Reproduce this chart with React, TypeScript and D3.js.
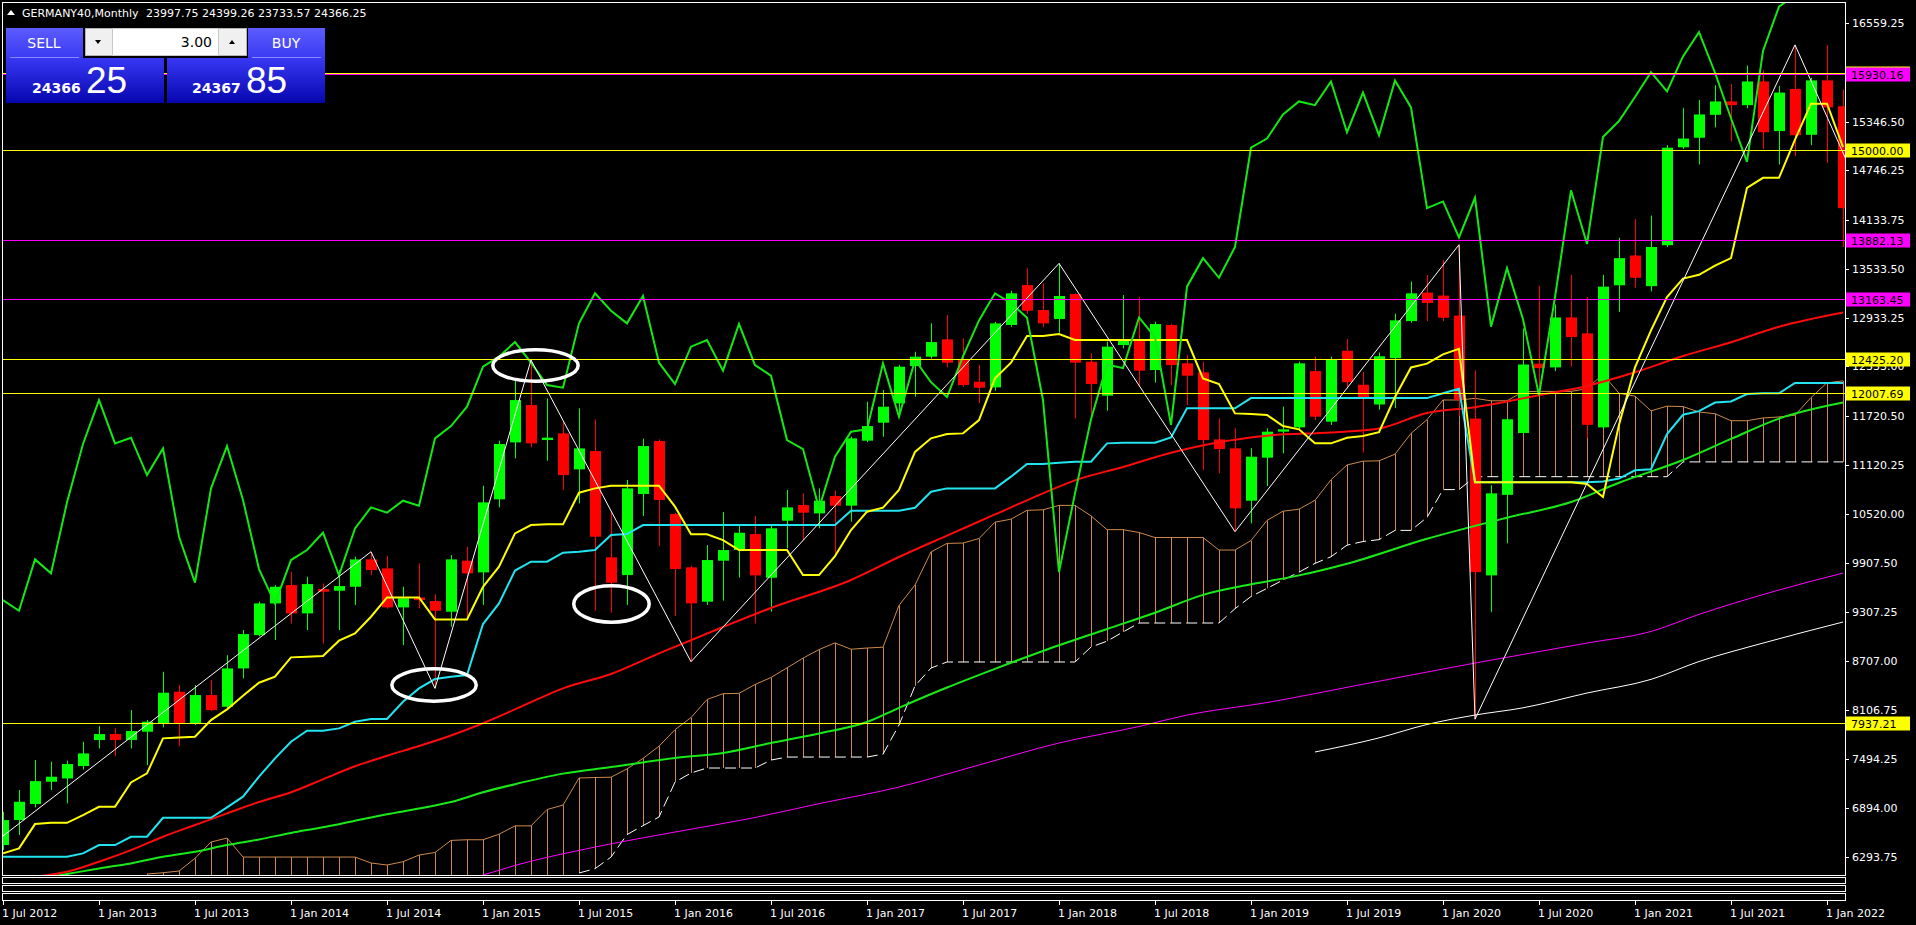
import { useLayoutEffect } from 'react'
import * as d3 from 'd3'

const WIDTH = 1916
const HEIGHT = 925
const PLOT = { left: 2, right: 1845, top: 2, bottom: 875 }
const FONT = 'DejaVu Sans, sans-serif'

// monthly bars, bar 0 = Jul 2012 ... bar 115 = Feb 2022
const OPEN = [
  6441, 6748, 6945, 7220, 7261, 7413, 7733, 7807, 7733, 7836,
  7938, 8328, 7938, 8287, 8143, 8615, 9025, 9415, 9641, 9292,
  9592, 9571, 9620, 9957, 9846, 9366, 9489, 9444, 9313, 9941,
  9797, 10696, 11397, 11857, 11426, 11508, 11065, 11291, 9982, 9764,
  10761, 11414, 10515, 9859, 9436, 9941, 10072, 10269, 9731, 10433,
  10626, 10523, 10737, 10618, 11418, 11639, 11877, 12337, 12452, 12665,
  12411, 12144, 12074, 12842, 13334, 13026, 12916, 13223, 12390, 11972,
  12595, 12657, 12288, 12842, 12370, 12259, 11434, 11324, 10679, 11209,
  11529, 11582, 12275, 11652, 12525, 12106, 11864, 12434, 12890, 13241,
  13204, 12958, 11691, 9760, 10751, 11513, 12366, 12320, 12935, 12739,
  11582, 13331, 13697, 13320, 13824, 15029, 15147, 15429, 15594, 15548,
  15840, 15229, 15748, 15183, 15853, 15534,
]
const HIGH = [
  6851, 7118, 7487, 7466, 7480, 7712, 7905, 7877, 8102, 7980,
  8574, 8410, 8410, 8472, 8779, 9087, 9436, 9640, 9805, 9743,
  9661, 9825, 9990, 10051, 10000, 9620, 9908, 9530, 10010, 10113,
  10864, 11418, 12165, 12411, 11939, 11652, 11816, 11680, 10544, 10934,
  11443, 11434, 10530, 9880, 10134, 10540, 10372, 10491, 10380, 10811,
  10770, 10831, 10803, 11467, 11898, 12042, 12349, 12513, 12862, 12965,
  12678, 12349, 12880, 13264, 13539, 13355, 13600, 13232, 12493, 12637,
  13211, 13190, 12883, 12854, 12472, 12390, 11693, 11570, 11324, 11570,
  11836, 12390, 12452, 12452, 12669, 12265, 12502, 12981, 13378, 13460,
  13642, 13830, 12284, 10870, 11700, 12798, 13323, 13095, 13460, 13186,
  13460, 13916, 14144, 14189, 15056, 15511, 15612, 15794, 15808, 16036,
  15975, 15785, 16290, 15885, 16285, 15739,
]
const LOW = [
  6380, 6564, 6904, 7118, 6953, 7370, 7630, 7536, 7630, 7425,
  7889, 7659, 7918, 8090, 8102, 8492, 9010, 8964, 9169, 9087,
  8923, 9087, 9395, 9764, 9350, 8902, 9354, 8369, 9128, 9252,
  9395, 10597, 11200, 11336, 11172, 10811, 10647, 9325, 9301, 9395,
  10491, 10121, 9260, 8698, 9395, 9449, 9732, 9169, 9313, 10093,
  10195, 10339, 10031, 10421, 11400, 11467, 11722, 11960, 12431, 12321,
  12083, 11878, 12033, 12820, 12980, 12813, 12747, 11693, 11730, 11787,
  12555, 12083, 12132, 12103, 11857, 11057, 11016, 10298, 10400, 10860,
  11262, 11560, 11672, 11611, 12060, 11271, 11800, 11818, 12870, 12890,
  12890, 11724, 7990, 9311, 10154, 11500, 12024, 12275, 12329, 11450,
  11560, 13004, 13300, 13255, 13802, 15010, 14818, 15274, 15100, 15511,
  15010, 14818, 14922, 15055, 14837, 13802,
]
const CLOSE = [
  6748, 6974, 7228, 7282, 7438, 7569, 7807, 7733, 7844, 7959,
  8316, 7938, 8287, 8102, 8615, 9038, 9415, 9620, 9292, 9653,
  9559, 9629, 9957, 9826, 9366, 9477, 9456, 9325, 9957, 9785,
  10659, 11377, 11918, 11385, 11455, 10995, 11323, 10236, 9670, 10831,
  11352, 10688, 9838, 9416, 9949, 10072, 10285, 9760, 10339, 10597,
  10532, 10679, 10618, 11447, 11598, 11836, 12329, 12452, 12632, 12378,
  12103, 12070, 12862, 13232, 13018, 12862, 13199, 12378, 12115, 12575,
  12657, 12280, 12854, 12349, 12218, 11426, 11315, 10585, 11221, 11529,
  11558, 12370, 11713, 12411, 12138, 11955, 12457, 12899, 13232, 13113,
  12931, 11919, 9800, 10770, 11682, 12356, 12311, 12935, 12694, 11613,
  13314, 13665, 13423, 13802, 15024, 15137, 15434, 15594, 15548, 15840,
  15215, 15703, 15178, 15853, 15520, 14280,
]
// closes after the visible window (only seen through the lagging span)
const LATER_CLOSES = [
  14363, 13920, 14408, 12822, 13542, 12913, 11978, 13186, 14500, 13838,
  15156, 15352, 15648, 15954, 15717, 16148, 16447, 15947, 15387, 14850,
  16215, 16760, 16904, 17678, 18492,
]
const CHIKOU_LAG = 26

const TENKAN = [
  6338, 6400, 6699, 6715, 6715, 6810, 6912, 6912, 7212, 7323,
  7754, 7766, 7774, 7979, 8110, 8279, 8439, 8513, 8751, 8759,
  8767, 8956, 9046, 9251, 9489, 9489, 9489, 9218, 9218, 9218,
  9620, 9867, 10277, 10380, 10388, 10388, 10778, 10831, 10864, 10864,
  10864, 10864, 10606, 10265, 10265, 10195, 10072, 10072, 10072, 10072,
  9764, 9764, 9998, 10318, 10544, 10593, 10811, 11280, 11447, 11500,
  11508, 11672, 12185, 12378, 12706, 12706, 12731, 12657, 12657, 12657,
  12657, 12657, 12657, 12657, 12657, 12185, 12115, 11754, 11746, 11734,
  11599, 11558, 11385, 11385, 11454, 11477, 11522, 11955, 12320, 12366,
  12480, 12548, 10907, 10907, 10907, 10907, 10907, 10907, 10907, 10884,
  10724, 11613, 12320, 12776, 13186, 13414, 13460, 13574, 13665, 14531,
  14654, 14654, 15124, 15566, 15566, 15033,
]
const KIJUN = [
  6297, 6297, 6297, 6297, 6297, 6338, 6441, 6441, 6543, 6543,
  6777, 6777, 6777, 6777, 6904, 7036, 7282, 7507, 7713, 7848,
  7848, 7877, 7959, 7992, 7992, 8205, 8369, 8484, 8513, 8533,
  9161, 9415, 9820, 9928, 9928, 10039, 10052, 10072, 10257, 10269,
  10380, 10380, 10380, 10380, 10380, 10380, 10380, 10380, 10380, 10380,
  10380, 10380, 10380, 10556, 10556, 10556, 10556, 10593, 10790, 10831,
  10831, 10831, 10831, 10975, 11131, 11131, 11147, 11160, 11160, 11385,
  11393, 11393, 11393, 11459, 11816, 11816, 11816, 11816, 11942, 11942,
  11942, 11942, 11942, 11942, 11942, 11942, 11942, 11942, 11942, 11942,
  12001, 12056, 10907, 10907, 10907, 10907, 10907, 10907, 10907, 10907,
  10916, 10952, 11053, 11066, 11499, 11737, 11782, 11887, 11901, 11992,
  12001, 12001, 12129, 12129, 12129, 12129,
]

// leading span A from bar 9, leading span B from bar 36 (lower ones sit below the window)
const SPAN_A_START = 9
const SPAN_A = [
  6084, 6100, 6121, 6277, 6478, 6527, 6293, 6293, 6293, 6293,
  6293, 6293, 6293, 6293, 6220, 6195, 6236,
  6318, 6349, 6498, 6506, 6506, 6574, 6677, 6677, 6878, 6933,
  7266, 7272, 7276, 7378, 7507, 7658, 7861, 8010, 8232, 8304,
  8308, 8417, 8503, 8622, 8741, 8847, 8929, 8851, 8866, 8876,
  9391, 9641, 10049, 10154, 10158, 10214, 10415, 10452, 10561, 10567,
  10622, 10622, 10493, 10323, 10323, 10288, 10226, 10226, 10226, 10226,
  10072, 10072, 10189, 10437, 10550, 10575, 10684, 10937, 11119, 11166,
  11170, 11252, 11508, 11677, 11919, 11919, 11939, 11909, 11909, 12021,
  12025, 12025, 12025, 12058, 12237, 12001, 11966, 11785, 11843, 11838,
  11771, 11750, 11664, 11664, 11698, 11710, 11732, 11949, 12131, 12154,
]
const SPAN_B_START = 36
const SPAN_B = [
  6097, 6150, 6293, 6570, 6680, 6786, 7216, 7328, 7389, 7389,
  7389, 7389, 7487, 7524, 7524, 7524, 7524, 7524, 7524, 7560,
  7918, 8400, 8620, 8694, 8694, 8694, 8694, 8694, 8694, 8694,
  8694, 8694, 8878, 8950, 9063, 9174, 9174, 9174, 9174, 9174,
  9174, 9350, 9500, 9600, 9703, 9800, 9908, 9990, 10132, 10177,
  10200, 10314, 10314, 10474, 10816, 10816, 10975, 10975, 10975, 10975,
  10975, 10975, 10975, 10975, 10975, 10975, 10975, 10975, 10975, 11157,
  11157, 11157, 11157, 11157, 11157, 11157, 11157, 11157, 11157, 11157,
]

// moving averages, read at sample bars
const RED_MA_BARS = [0, 2, 4, 6, 8, 10, 12, 14, 16, 18, 20, 22, 24, 26, 28, 30, 32, 35, 38, 41, 45, 48, 53, 56, 59, 62, 65, 67, 70, 73, 76, 79, 83, 86, 89, 92, 96, 99, 102, 105, 108, 111, 115]
const RED_MA = [5990, 6050, 6112, 6236, 6379, 6543, 6687, 6830, 6970, 7090, 7250, 7410, 7540, 7660, 7790, 7940, 8110, 8370, 8546, 8800, 9125, 9359, 9703, 9986, 10250, 10510, 10770, 10930, 11095, 11270, 11400, 11480, 11520, 11568, 11760, 11830, 11978, 12092, 12260, 12460, 12630, 12820, 12995]
const GREEN_MA_BARS = [0, 4, 6, 8, 10, 12, 14, 16, 18, 20, 22, 24, 26, 28, 30, 32, 35, 38, 42, 45, 48, 51, 54, 56, 59, 62, 65, 69, 72, 75, 78, 81, 84, 89, 94, 98, 101, 105, 108, 111, 115]
const GREEN_MA = [5950, 6084, 6153, 6215, 6297, 6359, 6441, 6510, 6590, 6660, 6740, 6820, 6890, 6970, 7090, 7190, 7320, 7401, 7512, 7574, 7697, 7815, 7955, 8130, 8380, 8610, 8830, 9100, 9300, 9520, 9650, 9760, 9904, 10210, 10470, 10663, 10900, 11180, 11440, 11690, 11887]
const MAGENTA_MA_BARS = [28, 30, 32, 37, 42, 47, 51, 56, 61, 66, 71, 74, 79, 85, 92, 99, 103, 106, 111, 115]
const MAGENTA_MA = [5990, 6072, 6190, 6416, 6601, 6780, 6950, 7155, 7426, 7697, 7900, 8041, 8195, 8420, 8681, 8927, 9070, 9280, 9580, 9789]
const WHITE_MA_BARS = [82, 86, 89, 92, 95, 99, 103, 106, 110, 115]
const WHITE_MA = [7586, 7760, 7925, 8041, 8130, 8312, 8480, 8700, 8927, 9186]

// zigzag pivots
const ZIGZAG_BARS = [-1, 23, 27, 33, 43, 66, 77, 91, 92, 112, 122]
const ZIGZAG_PRICES = [6400, 10051, 8369, 12411, 8698, 13600, 10298, 13830, 7990, 16290, 11863]

// horizontal line objects
const HLINE_PRICES = [15945, 15930.16, 15000, 13882.13, 13163.45, 12425.2, 12007.69, 7937.21]
const HLINE_KIND = ['y', 'm', 'y', 'm', 'm', 'y', 'y', 'y']

// ellipse objects: bar range and price range
const ELLIPSE_BAR_FROM = [24.19, 30.5, 35.56]
const ELLIPSE_BAR_TO = [29.69, 36.06, 40.5]
const ELLIPSE_PRICE_TOP = [8632, 12559, 9654]
const ELLIPSE_PRICE_BOTTOM = [8189, 12128, 9161]

const PRICE_TICKS = [16559.25, 15346.5, 14746.25, 14133.75, 13533.5, 12933.25, 12333.0, 11720.5, 11120.25, 10520.0, 9907.5, 9307.25, 8707.0, 8106.75, 7494.25, 6894.0, 6293.75]
const TIME_LABELS = [
  '1 Jul 2012', '1 Jan 2013', '1 Jul 2013', '1 Jan 2014', '1 Jul 2014',
  '1 Jan 2015', '1 Jul 2015', '1 Jan 2016', '1 Jul 2016', '1 Jan 2017',
  '1 Jul 2017', '1 Jan 2018', '1 Jul 2018', '1 Jan 2019', '1 Jul 2019',
  '1 Jan 2020', '1 Jul 2020', '1 Jan 2021', '1 Jul 2021', '1 Jan 2022',
]
const TIME_LABEL_STEP = 6

const HEADER_SYMBOL = 'GERMANY40,Monthly'
const HEADER_VALUES = '23997.75 24399.26 23733.57 24366.25'
const LOT = '3.00'
const BID = ['24366', '25']
const ASK = ['24367', '85']

const COLORS = {
  bull: '#00ff00',
  bear: '#ff0000',
  tenkan: '#ffff00',
  kijun: '#22e4f0',
  chikou: '#14e814',
  cloud: '#cd8a4c',
  spanB: '#ffffff',
  redMa: '#ff0a0a',
  greenMa: '#18ea18',
  magentaMa: '#ff00ff',
  whiteMa: '#ffffff',
  y: '#ffff00',
  m: '#ff00ff',
}

type Pt = [number, number]

export default function App() {
  useLayoutEffect(() => {
    document.body.style.margin = '0'
    document.body.style.background = '#000'
  }, [])

  const x = d3.scaleLinear().domain([0, 114]).range([3, 1827])
  const y = d3.scaleLinear().domain([6293.75, 16559.25]).range([857, 23])

  const line = d3
    .line<Pt | null>()
    .defined((d) => d !== null)
    .x((d) => x((d as Pt)[0]))
    .y((d) => y((d as Pt)[1]))
  const smooth = d3
    .line<Pt>()
    .x((d) => x(d[0]))
    .y((d) => y(d[1]))
    .curve(d3.curveMonotoneX)

  const pairs = (bars: number[], vals: number[]): Pt[] => bars.map((b, k) => [b, vals[k]])
  const series = (vals: number[], start = 0): Pt[] => vals.map((v, k) => [k + start, v])

  const chikou = series(CLOSE.concat(LATER_CLOSES).slice(CHIKOU_LAG))
  const clipId = 'plot-clip'

  return (
    <svg width={WIDTH} height={HEIGHT} style={{ display: 'block', background: '#000' }} fontFamily={FONT}>
      <defs>
        <clipPath id={clipId}>
          <rect x={PLOT.left} y={PLOT.top} width={PLOT.right - PLOT.left} height={PLOT.bottom - PLOT.top} />
        </clipPath>
        <linearGradient id="tabGrad" x1="0" x2="0" y1="0" y2="1">
          <stop offset="0%" stopColor="#5c5cff" />
          <stop offset="100%" stopColor="#3a3af2" />
        </linearGradient>
        <linearGradient id="priceGrad" x1="0" x2="0" y1="0" y2="1">
          <stop offset="0%" stopColor="#3838f4" />
          <stop offset="100%" stopColor="#0606ae" />
        </linearGradient>
      </defs>
      <rect width={WIDTH} height={HEIGHT} fill="#000" />

      <g clipPath={`url(#${clipId})`}>
        {/* cloud hatch */}
        <g stroke={COLORS.cloud} strokeWidth={1}>
          {SPAN_A.map((a, k) => {
            const bar = k + SPAN_A_START
            const bIdx = bar - SPAN_B_START
            const b = bIdx >= 0 && bIdx < SPAN_B.length ? SPAN_B[bIdx] : null
            const cx = x(bar) + 0.5
            return <line key={bar} x1={cx} x2={cx} y1={y(a)} y2={b === null ? PLOT.bottom : y(b)} />
          })}
        </g>
        <path d={line(series(SPAN_A, SPAN_A_START)) ?? undefined} fill="none" stroke={COLORS.cloud} strokeWidth={1} />
        <path
          d={line(series(SPAN_B, SPAN_B_START)) ?? undefined}
          fill="none"
          stroke={COLORS.spanB}
          strokeWidth={1}
          strokeDasharray="11 5"
        />

        {/* candles */}
        {OPEN.map((o, i) => {
          const c = CLOSE[i]
          const col = c >= o ? COLORS.bull : COLORS.bear
          const cx = x(i)
          const top = y(Math.max(o, c))
          const h = Math.max(1, y(Math.min(o, c)) - top)
          return (
            <g key={i}>
              <line x1={cx + 0.5} x2={cx + 0.5} y1={y(HIGH[i])} y2={y(LOW[i])} stroke={col} strokeWidth={1} />
              <rect x={cx - 5} y={top} width={11} height={h} fill={col} />
            </g>
          )
        })}

        {/* moving averages */}
        <path d={smooth(pairs(WHITE_MA_BARS, WHITE_MA)) ?? undefined} fill="none" stroke={COLORS.whiteMa} strokeWidth={1} />
        <path d={smooth(pairs(MAGENTA_MA_BARS, MAGENTA_MA)) ?? undefined} fill="none" stroke={COLORS.magentaMa} strokeWidth={1} />
        <path d={smooth(pairs(GREEN_MA_BARS, GREEN_MA)) ?? undefined} fill="none" stroke={COLORS.greenMa} strokeWidth={2} />
        <path d={smooth(pairs(RED_MA_BARS, RED_MA)) ?? undefined} fill="none" stroke={COLORS.redMa} strokeWidth={2} />

        {/* ichimoku lines */}
        <path d={line(series(KIJUN)) ?? undefined} fill="none" stroke={COLORS.kijun} strokeWidth={2} />
        <path d={line(series(TENKAN)) ?? undefined} fill="none" stroke={COLORS.tenkan} strokeWidth={2} />
        <path d={line(chikou) ?? undefined} fill="none" stroke={COLORS.chikou} strokeWidth={2} />

        {/* zigzag */}
        <path d={line(pairs(ZIGZAG_BARS, ZIGZAG_PRICES)) ?? undefined} fill="none" stroke="#ffffff" strokeWidth={1} />

        {/* horizontal lines */}
        {HLINE_PRICES.map((p, k) => (
          <line
            key={p}
            x1={PLOT.left}
            x2={PLOT.right}
            y1={Math.round(y(p)) + 0.5}
            y2={Math.round(y(p)) + 0.5}
            stroke={COLORS[HLINE_KIND[k] as 'y' | 'm']}
            strokeWidth={1}
          />
        ))}

        {/* ellipses */}
        {ELLIPSE_BAR_FROM.map((b0, k) => {
          const x0 = x(b0)
          const x1 = x(ELLIPSE_BAR_TO[k])
          const y0 = y(ELLIPSE_PRICE_TOP[k])
          const y1 = y(ELLIPSE_PRICE_BOTTOM[k])
          return (
            <ellipse
              key={k}
              cx={(x0 + x1) / 2}
              cy={(y0 + y1) / 2}
              rx={(x1 - x0) / 2 - 1.8}
              ry={(y1 - y0) / 2 - 1.8}
              fill="none"
              stroke="#ffffff"
              strokeWidth={3.5}
            />
          )
        })}
      </g>

      {/* frame and sub-window strips */}
      <g fill="none" stroke="#ffffff" strokeWidth={1}>
        <rect x={PLOT.left + 0.5} y={PLOT.top + 0.5} width={PLOT.right - PLOT.left} height={PLOT.bottom - PLOT.top} />
        <rect x={PLOT.left + 0.5} y={877.5} width={PLOT.right - PLOT.left} height={6} />
        <rect x={PLOT.left + 0.5} y={885.5} width={PLOT.right - PLOT.left} height={6} />
        <rect x={PLOT.left + 0.5} y={893.5} width={PLOT.right - PLOT.left} height={7} />
      </g>

      {/* price axis */}
      <g fontSize={11} fill="#ffffff">
        {PRICE_TICKS.map((p) => (
          <g key={p}>
            <line x1={PLOT.right} x2={PLOT.right + 4} y1={Math.round(y(p)) + 0.5} y2={Math.round(y(p)) + 0.5} stroke="#ffffff" />
            <text x={1852} y={y(p) + 4}>
              {p.toFixed(2)}
            </text>
          </g>
        ))}
      </g>
      <g fontSize={11}>
        {HLINE_PRICES.map((p, k) => (
          <g key={p}>
            <rect x={1846} y={Math.round(y(p)) - 6.5} width={64} height={14} fill={COLORS[HLINE_KIND[k] as 'y' | 'm']} />
            <text x={1851} y={Math.round(y(p)) + 4.5} fill="#000000">
              {p.toFixed(2)}
            </text>
          </g>
        ))}
      </g>

      {/* time axis */}
      <g fontSize={11} fill="#ffffff">
        {TIME_LABELS.map((label, k) => {
          const tx = x(k * TIME_LABEL_STEP)
          return (
            <g key={label}>
              <line x1={tx + 0.5} x2={tx + 0.5} y1={901} y2={905} stroke="#ffffff" />
              <text x={tx - 1} y={917}>
                {label}
              </text>
            </g>
          )
        })}
      </g>

      {/* header */}
      <polygon points="7,15 15,15 11,10" fill="#ffffff" />
      <text x={22} y={17} fontSize={11} fill="#ffffff">
        {HEADER_SYMBOL}
      </text>
      <text x={146} y={17} fontSize={11} fill="#ffffff">
        {HEADER_VALUES}
      </text>

      {/* one-click trading panel */}
      <g>
        <rect x={6} y={28} width={77} height={30} fill="url(#tabGrad)" />
        <rect x={248} y={28} width={77} height={30} fill="url(#tabGrad)" />
        <rect x={6} y={58} width={158} height={45} fill="url(#priceGrad)" />
        <rect x={167} y={58} width={158} height={45} fill="url(#priceGrad)" />
        <line x1={10} x2={79} y1={57.5} y2={57.5} stroke="#8a8aff" />
        <line x1={252} x2={321} y1={57.5} y2={57.5} stroke="#8a8aff" />
        <rect x={85.5} y={28.5} width={161} height={27} fill="#f0f0f0" stroke="#b4b4b4" />
        <rect x={112.5} y={28.5} width={106} height={27} fill="#ffffff" stroke="#c8c8c8" />
        <polygon points="95,40 101,40 98,44" fill="#000" />
        <polygon points="229,44 235,44 232,40" fill="#000" />
        <text x={212} y={47} fontSize={14} textAnchor="end" fill="#000">
          {LOT}
        </text>
        <text x={44} y={48} fontSize={14} textAnchor="middle" fill="#ffffff">
          SELL
        </text>
        <text x={286} y={48} fontSize={14} textAnchor="middle" fill="#ffffff">
          BUY
        </text>
        <text x={32} y={93} fontSize={14} fontWeight="bold" fill="#ffffff">
          {BID[0]}
        </text>
        <text x={86} y={93} fontSize={37} fontFamily="Liberation Sans, sans-serif" fill="#ffffff">
          {BID[1]}
        </text>
        <text x={192} y={93} fontSize={14} fontWeight="bold" fill="#ffffff">
          {ASK[0]}
        </text>
        <text x={246} y={93} fontSize={37} fontFamily="Liberation Sans, sans-serif" fill="#ffffff">
          {ASK[1]}
        </text>
      </g>
    </svg>
  )
}
